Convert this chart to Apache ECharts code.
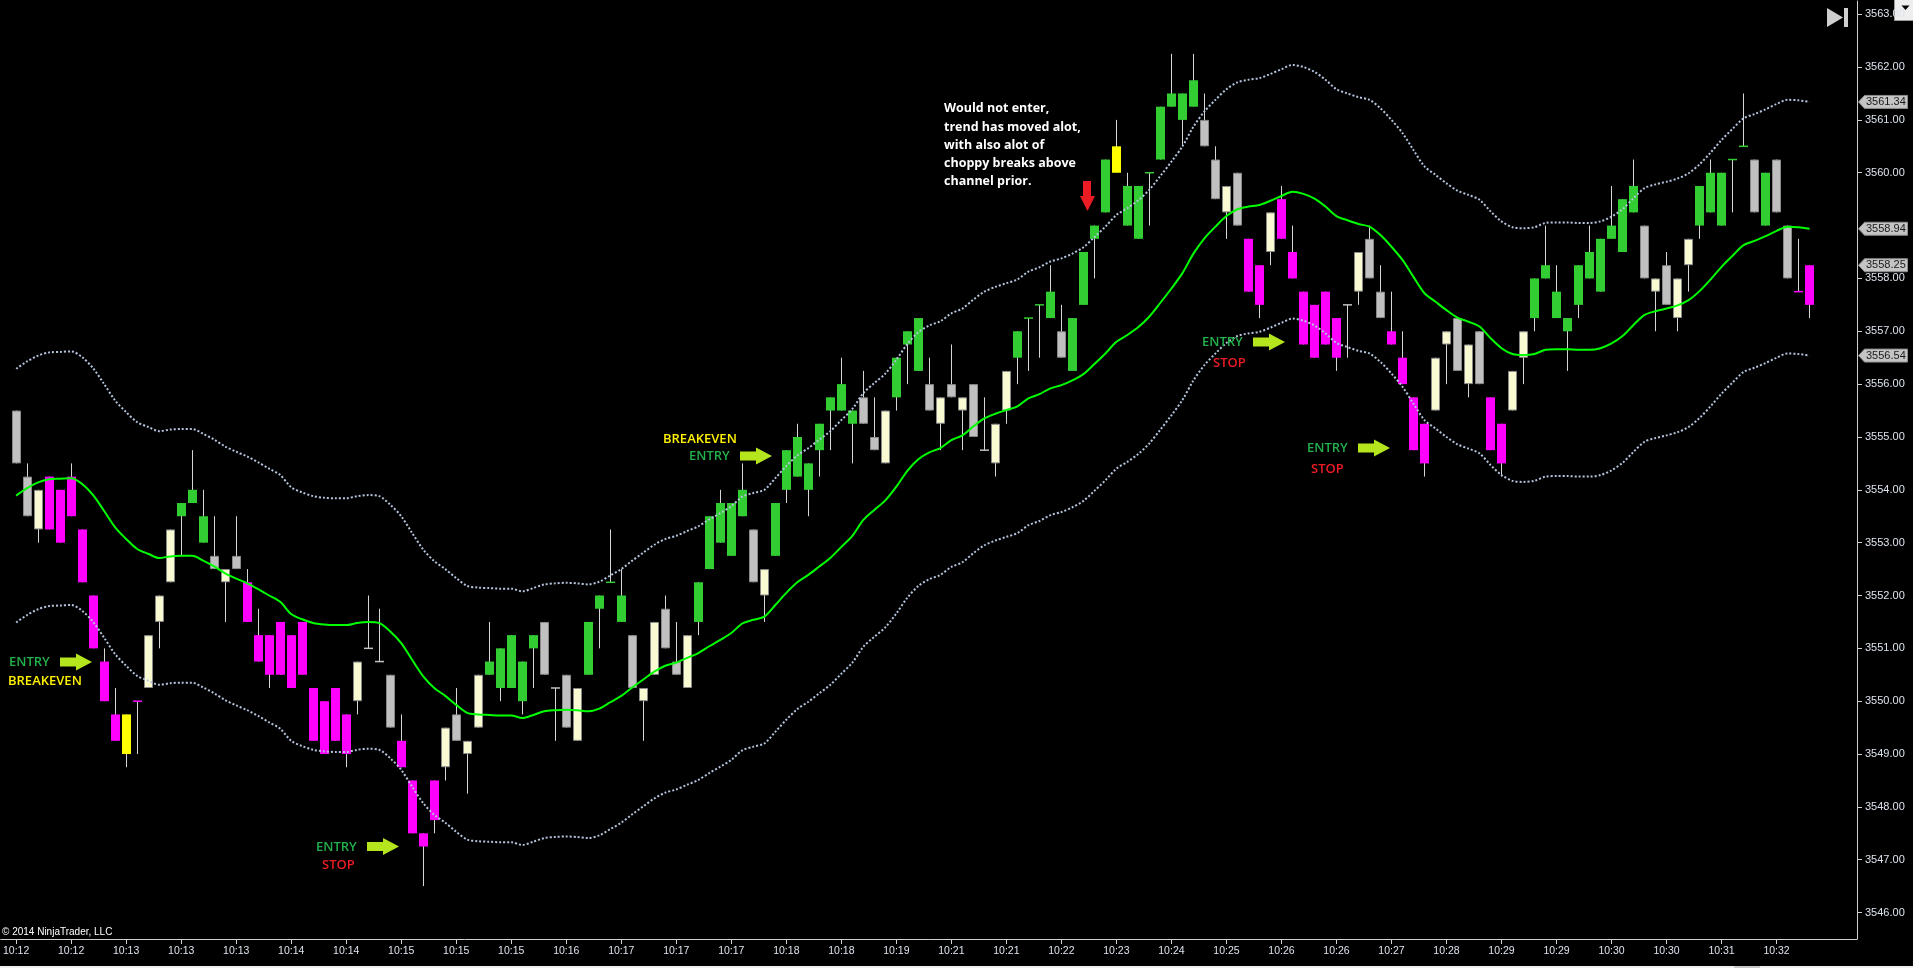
<!DOCTYPE html>
<html><head><meta charset="utf-8">
<script src="https://cdn.jsdelivr.net/npm/echarts@6/dist/echarts.min.js"></script>
<style>html,body{margin:0;padding:0;background:#000;overflow:hidden}#c{width:1913px;height:968px}</style>
</head><body><div id="c"></div>
<script>
// ---------------- DATA ----------------
const timeLabels = ['10:12','10:12','10:13','10:13','10:13','10:14','10:14','10:15','10:15','10:15','10:16','10:17','10:17','10:17','10:18','10:18','10:19','10:21','10:21','10:22','10:23','10:24','10:25','10:26','10:26','10:27','10:28','10:29','10:29','10:30','10:30','10:31','10:32'];
const priceTicks = [3546,3547,3548,3549,3550,3551,3552,3553,3554,3555,3556,3557,3558,3559,3560,3561,3562,3563];

// paint: g=green, m=magenta, c=cream, s=silver, y=yellow
const paints = [
's','s','c','m','m','m','m','m','m','m',
'y','m','c','c','c','g','g','g','s','c',
's','m','m','m','m','m','m','m','m','m',
'm','c','s','s','s','m','m','m','m','c',
's','c','c','g','g','g','g','g','s','s',
's','c','g','g','g','g','s','c','c','s',
's','c','g','g','g','g','g','s','c','g',
'g','g','g','g','g','g','g','s','s','c',
'g','g','g','s','c','s','c','s','s','c',
'c','g','g','g','g','s','g','g','g','g',
'y','g','g','g','g','g','g','g','s','s',
'c','s','m','m','c','m','m','m','m','m',
'm','s','c','s','s','m','m','m','m','c',
'c','s','c','s','m','m','c','c','g','g',
'g','g','g','g','g','g','g','g','s','c',
's','c','c','g','g','g','g','g','s','g',
's','s','m','m'];

const opens = [
3555.5,3554.25,3553.25,3554.25,3554,3554.25,3553.25,3552,3550.75,3549.75,
3549,3550,3550.25,3551.5,3552.25,3553.5,3553.75,3553,3552.75,3552.25,
3552.75,3552.25,3551.25,3551.25,3551.5,3551.25,3551.5,3550.25,3550,3550.25,
3549.75,3550,3551,3550.75,3550.5,3549.25,3548.5,3547.5,3548.5,3548.75,
3549.75,3549,3549.5,3550.5,3550.25,3550.25,3550,3551,3551.5,3550.25,
3550.5,3549.25,3550.5,3551.75,3552.25,3551.5,3551.25,3550,3550.5,3551.75,
3550.75,3550.25,3551.5,3552.5,3553,3552.75,3553.5,3553.25,3552,3552.75,
3554,3554.25,3554,3554.75,3555.5,3555.5,3555.25,3555.75,3555,3554.5,
3555.75,3556.75,3556.25,3556,3555.25,3556,3555.5,3556,3554.75,3554.5,
3555.5,3556.5,3557.25,3557.5,3557.25,3557,3556.25,3557.5,3558.75,3559.25,
3560,3559,3558.75,3560,3560.25,3561.25,3561,3561.25,3561,3560.25,
3559.25,3560,3558.75,3558.25,3558.5,3559.5,3558.5,3557.75,3557.5,3557.75,
3557.25,3557.5,3557.75,3558.75,3557.75,3557,3556.5,3555.75,3555.25,3555.5,
3556.75,3557.25,3556,3557,3555.75,3555.25,3555.5,3556.5,3557.25,3558,
3557.25,3557,3557.5,3558,3557.75,3558.75,3558.5,3559.25,3559,3557.75,
3558.25,3557.25,3558.25,3559,3559.25,3559,3560.25,3560.5,3560.25,3559,
3560.25,3559,3557.75,3557.5];

const highs = [
3555.5,3554.5,3554,3554.25,3554,3554.5,3553.25,3552,3551,3550.25,
3549.75,3550,3551.25,3552,3553.25,3553.75,3554.75,3554,3553.5,3552.5,
3553.5,3552.5,3551.75,3551.25,3551.5,3551.25,3551.5,3550.25,3550,3550.25,
3549.75,3550.75,3552,3551.75,3550.5,3549.75,3548.5,3547.5,3548.5,3549.5,
3550.25,3549.25,3550.5,3551.5,3551,3551.25,3550.75,3551.25,3551.5,3550.25,
3550.5,3550.25,3551.5,3552,3553.25,3552.5,3551.25,3550.25,3551.5,3552,
3551.5,3551.25,3552.25,3553.5,3554,3553.75,3554.5,3553.25,3552.5,3553.75,
3554.75,3555.25,3554.5,3555.25,3555.75,3556.5,3555.5,3556.25,3555.75,3555.5,
3556.5,3557,3557.25,3556.5,3555.75,3556.75,3555.75,3556,3555.75,3555.25,
3556.25,3557,3557.25,3557.5,3558.25,3557.5,3557.25,3558.5,3559,3560.25,
3561,3560,3559.75,3560,3561.25,3562.25,3561.5,3562.25,3561.5,3560.5,
3559.75,3560,3558.75,3558.25,3559.25,3559.75,3559,3557.75,3557.5,3557.75,
3557.25,3557.5,3558.5,3559,3558.25,3557.75,3557,3555.75,3555.25,3556.5,
3557,3557.25,3556.75,3557,3555.75,3555.25,3556.25,3557,3558,3559,
3558.25,3557.25,3558.25,3559,3558.75,3559.75,3559.5,3560.25,3559,3558,
3558.5,3558,3558.75,3559.75,3560.25,3560,3560.25,3561.5,3560.25,3560,
3560.25,3559,3558.75,3558.25];

const lows = [
3554.5,3553.5,3553,3553.25,3553,3553.5,3552.25,3551,3550,3549.25,
3548.75,3549,3550.25,3551,3552.25,3552.75,3553.75,3553,3552.5,3551.5,
3552.5,3551.5,3550.75,3550.25,3550.5,3550.25,3550.5,3549.25,3549,3549.25,
3548.75,3549.75,3551,3550.75,3549.5,3548.75,3547.5,3546.5,3547.5,3548.5,
3549.25,3548.25,3549.5,3550.5,3550,3550.25,3549.75,3550.25,3550.5,3549.25,
3549.5,3549.25,3550.5,3551,3552.25,3551.5,3550.25,3549.25,3550.5,3551,
3550.5,3550.25,3551.25,3552.5,3553,3552.75,3553.5,3552.25,3551.5,3552.75,
3553.75,3554.25,3553.5,3554.25,3554.75,3555.5,3554.5,3555.25,3554.75,3554.5,
3555.5,3556,3556.25,3555.5,3554.75,3555.75,3554.75,3555,3554.75,3554.25,
3555.25,3556,3556.25,3556.5,3557.25,3556.5,3556.25,3557.5,3558,3559.25,
3560,3559,3558.75,3559,3560.25,3561.25,3560.5,3561.25,3560.5,3559.5,
3558.75,3559,3557.75,3557.25,3558.25,3558.75,3558,3556.75,3556.5,3556.75,
3556.25,3556.5,3557.5,3558,3557.25,3556.75,3556,3554.75,3554.25,3555.5,
3556,3556.25,3555.75,3556,3554.75,3554.25,3555.5,3556,3557,3558,
3557.25,3556.25,3557.25,3558,3557.75,3558.75,3558.5,3559.25,3558,3557,
3557.5,3557,3557.75,3558.75,3559.25,3559,3559.25,3560.5,3559.25,3559,
3559.25,3558,3557.75,3557.25];

const closes = [
3554.5,3553.5,3554,3553.25,3553,3553.5,3552.25,3551,3550,3549.25,
3549.75,3550,3551.25,3552,3553.25,3553.75,3554,3553.5,3552.5,3552.5,
3552.5,3551.5,3550.75,3550.5,3550.5,3550.25,3550.5,3549.25,3549,3549.25,
3549,3550.75,3551,3550.75,3549.5,3548.75,3547.5,3547.25,3547.75,3549.5,
3549.25,3549.25,3550.5,3550.75,3551,3551.25,3550.75,3551.25,3550.5,3550.25,
3549.5,3550.25,3551.5,3552,3552.25,3552,3550.25,3550.25,3551.5,3551,
3550.5,3551.25,3552.25,3553.5,3553.75,3553.75,3554,3552.25,3552.5,3553.75,
3554.75,3555,3554.5,3555.25,3555.75,3556,3555.5,3555.25,3554.75,3555.5,
3556.5,3557,3557.25,3555.5,3555.75,3555.75,3555.75,3555,3554.75,3555.25,
3556.25,3557,3557.25,3557.5,3557.75,3556.5,3557.25,3558.5,3559,3560.25,
3560.5,3559.75,3559.75,3560,3561.25,3561.5,3561.5,3561.75,3560.5,3559.5,
3559.75,3559,3557.75,3557.5,3559.25,3558.75,3558,3556.75,3556.5,3556.75,
3556.5,3557.5,3558.5,3558,3557.25,3556.75,3556,3554.75,3554.5,3556.5,
3557,3556.25,3556.75,3556,3554.75,3554.5,3556.25,3557,3558,3558.25,
3557.75,3557.25,3558.25,3558.5,3558.75,3559,3559.5,3559.75,3558,3558,
3557.5,3558,3558.75,3559.75,3560,3560,3560.25,3560.5,3559.25,3560,
3559.25,3558,3557.75,3558.25];

const midLine = [
3553.89,3554.03,3554.14,3554.20,3554.21,3554.22,3554.11,3553.90,3553.60,3553.29,
3553.07,3552.88,3552.79,3552.71,3552.74,3552.75,3552.75,3552.66,3552.55,3552.42,
3552.32,3552.23,3552.12,3552.00,3551.88,3551.65,3551.55,3551.48,3551.45,3551.44,
3551.44,3551.48,3551.50,3551.48,3551.32,3551.10,3550.78,3550.47,3550.25,3550.10,
3549.93,3549.78,3549.75,3549.74,3549.73,3549.73,3549.68,3549.74,3549.81,3549.83,
3549.84,3549.83,3549.81,3549.86,3549.98,3550.10,3550.26,3550.41,3550.56,3550.67,
3550.73,3550.82,3550.91,3551.04,3551.16,3551.29,3551.47,3551.54,3551.60,3551.82,
3552.05,3552.25,3552.39,3552.55,3552.71,3552.92,3553.13,3553.43,3553.62,3553.80,
3554.06,3554.36,3554.58,3554.71,3554.79,3554.94,3555.03,3555.20,3555.35,3555.44,
3555.51,3555.58,3555.73,3555.81,3555.92,3555.98,3556.07,3556.19,3556.38,3556.58,
3556.80,3556.93,3557.08,3557.28,3557.54,3557.81,3558.10,3558.47,3558.76,3558.98,
3559.18,3559.31,3559.36,3559.39,3559.47,3559.56,3559.64,3559.60,3559.51,3559.36,
3559.18,3559.10,3559.03,3558.98,3558.82,3558.60,3558.35,3558.03,3557.72,3557.56,
3557.40,3557.26,3557.18,3557.09,3556.87,3556.68,3556.57,3556.55,3556.57,3556.65,
3556.66,3556.66,3556.65,3556.65,3556.68,3556.77,3556.91,3557.12,3557.31,3557.38,
3557.43,3557.49,3557.59,3557.76,3557.98,3558.22,3558.43,3558.63,3558.71,3558.80,
3558.90,3558.98,3558.97,3558.94];

const upperBand = [
3556.29,3556.43,3556.54,3556.60,3556.61,3556.62,3556.51,3556.30,3556.00,3555.69,
3555.47,3555.28,3555.19,3555.11,3555.14,3555.15,3555.15,3555.06,3554.95,3554.82,
3554.72,3554.63,3554.52,3554.40,3554.28,3554.05,3553.95,3553.88,3553.85,3553.84,
3553.84,3553.88,3553.90,3553.88,3553.72,3553.50,3553.18,3552.87,3552.65,3552.50,
3552.33,3552.18,3552.15,3552.14,3552.13,3552.13,3552.08,3552.14,3552.21,3552.23,
3552.24,3552.23,3552.21,3552.26,3552.38,3552.50,3552.66,3552.81,3552.96,3553.07,
3553.13,3553.22,3553.31,3553.44,3553.56,3553.69,3553.87,3553.94,3554.00,3554.22,
3554.45,3554.65,3554.79,3554.95,3555.11,3555.32,3555.53,3555.83,3556.02,3556.20,
3556.46,3556.76,3556.98,3557.11,3557.19,3557.34,3557.43,3557.60,3557.75,3557.84,
3557.91,3557.98,3558.13,3558.21,3558.32,3558.38,3558.47,3558.59,3558.78,3558.98,
3559.20,3559.33,3559.48,3559.68,3559.94,3560.21,3560.50,3560.87,3561.16,3561.38,
3561.58,3561.71,3561.76,3561.79,3561.87,3561.96,3562.04,3562.00,3561.91,3561.76,
3561.58,3561.50,3561.43,3561.38,3561.22,3561.00,3560.75,3560.43,3560.12,3559.96,
3559.80,3559.66,3559.58,3559.49,3559.27,3559.08,3558.97,3558.95,3558.97,3559.05,
3559.06,3559.06,3559.05,3559.05,3559.08,3559.17,3559.31,3559.52,3559.71,3559.78,
3559.83,3559.89,3559.99,3560.16,3560.38,3560.62,3560.83,3561.03,3561.11,3561.20,
3561.30,3561.38,3561.37,3561.34];

const lowerBand = [
3551.49,3551.63,3551.74,3551.80,3551.81,3551.82,3551.71,3551.50,3551.20,3550.89,
3550.67,3550.48,3550.39,3550.31,3550.34,3550.35,3550.35,3550.26,3550.15,3550.02,
3549.92,3549.83,3549.72,3549.60,3549.48,3549.25,3549.15,3549.08,3549.05,3549.04,
3549.04,3549.08,3549.10,3549.08,3548.92,3548.70,3548.38,3548.07,3547.85,3547.70,
3547.53,3547.38,3547.35,3547.34,3547.33,3547.33,3547.28,3547.34,3547.41,3547.43,
3547.44,3547.43,3547.41,3547.46,3547.58,3547.70,3547.86,3548.01,3548.16,3548.27,
3548.33,3548.42,3548.51,3548.64,3548.76,3548.89,3549.07,3549.14,3549.20,3549.42,
3549.65,3549.85,3549.99,3550.15,3550.31,3550.52,3550.73,3551.03,3551.22,3551.40,
3551.66,3551.96,3552.18,3552.31,3552.39,3552.54,3552.63,3552.80,3552.95,3553.04,
3553.11,3553.18,3553.33,3553.41,3553.52,3553.58,3553.67,3553.79,3553.98,3554.18,
3554.40,3554.53,3554.68,3554.88,3555.14,3555.41,3555.70,3556.07,3556.36,3556.58,
3556.78,3556.91,3556.96,3556.99,3557.07,3557.16,3557.24,3557.20,3557.11,3556.96,
3556.78,3556.70,3556.63,3556.58,3556.42,3556.20,3555.95,3555.63,3555.32,3555.16,
3555.00,3554.86,3554.78,3554.69,3554.47,3554.28,3554.17,3554.15,3554.17,3554.25,
3554.26,3554.26,3554.25,3554.25,3554.28,3554.37,3554.51,3554.72,3554.91,3554.98,
3555.03,3555.09,3555.19,3555.36,3555.58,3555.82,3556.03,3556.23,3556.31,3556.40,
3556.50,3556.58,3556.57,3556.54];

// ---------------- CHART ----------------
const paintColors = {g:'#32cd32', m:'#ff00ff', c:'#fafad2', s:'#c0c0c0', y:'#ffff00'};
const bordered = {c:true, s:true};
const tickBars = timeLabels.map((_, k) => k * 5);
const barData = opens.map((o, i) => [i, o, closes[i], lows[i], highs[i]]);
const toXY = arr => arr.map((v, i) => [i, v]);
const n = closes.length;
const markerVals = [upperBand[n-1], midLine[n-1], closes[n-1], lowerBand[n-1]];
// price labels hidden behind a value marker are not drawn (as in the reference)
const visiblePriceLabels = priceTicks.filter(t => markerVals.every(m => Math.abs(m - t) > 0.2));

function renderCandle(params, api) {
  const i = api.value(0);
  const k = paints[i];
  const pO = api.coord([i, api.value(1)]);
  const pC = api.coord([i, api.value(2)]);
  const pL = api.coord([i, api.value(3)]);
  const pH = api.coord([i, api.value(4)]);
  const cx = Math.floor(pO[0]) + 0.5;
  const half = 4.5;
  const kids = [];
  if (pL[1] - pH[1] > 0.5) {
    kids.push({type:'line', shape:{x1:cx, y1:pH[1], x2:cx, y2:pL[1]}, style:{stroke:'#d6d6d6', lineWidth:1}});
  }
  const top = Math.min(pO[1], pC[1]), bot = Math.max(pO[1], pC[1]);
  if (bot - top < 1) {
    kids.push({type:'line', shape:{x1:cx-half, y1:top, x2:cx+half, y2:top}, style:{stroke:paintColors[k], lineWidth:1.5}});
  } else if (bordered[k]) {
    kids.push({type:'rect', shape:{x:cx-half+0.5, y:top+0.5, width:2*half-1, height:bot-top-1}, style:{fill:paintColors[k], stroke:'#8a8a8a', lineWidth:1}});
  } else {
    kids.push({type:'rect', shape:{x:cx-half, y:top, width:2*half, height:bot-top}, style:{fill:paintColors[k]}});
  }
  return {type:'group', children:kids};
}

const chart = echarts.init(document.getElementById('c'), null, {renderer:'canvas'});
const axisFont = '"Liberation Sans", Arial, sans-serif';
chart.setOption({
  backgroundColor:'#000000',
  animation:false,
  grid:{left:0, right:56, top:1, bottom:29, containLabel:false},
  xAxis:{
    type:'value', min:-1.39, max:167.31,
    axisLine:{show:true, onZero:false, lineStyle:{color:'#d0d0d0', width:1}},
    axisTick:{show:true, length:5, customValues:tickBars, lineStyle:{color:'#d0d0d0'}},
    axisLabel:{customValues:tickBars, formatter:v => timeLabels[Math.round(v/5)], color:'#dde3ee', fontSize:10.5, fontFamily:axisFont, margin:7},
    splitLine:{show:false}
  },
  yAxis:{
    type:'value', position:'right', min:3545.5, max:3563.25,
    axisLine:{show:true, onZero:false, lineStyle:{color:'#d0d0d0', width:1}},
    axisTick:{show:true, length:5, customValues:visiblePriceLabels, lineStyle:{color:'#d0d0d0'}},
    axisLabel:{customValues:visiblePriceLabels, formatter:v => v.toFixed(2), color:'#dde3ee', fontSize:11, fontFamily:axisFont, margin:8},
    splitLine:{show:false}
  },
  series:[
    {type:'custom', name:'bars', renderItem:renderCandle, data:barData, encode:{x:0, y:[1,2,3,4]}, z:2, clip:true},
    {type:'line', name:'upper', data:toXY(upperBand), showSymbol:false, smooth:0.3, z:3,
      lineStyle:{color:'#b4c4dc', width:2, type:[2,2]}},
    {type:'line', name:'lower', data:toXY(lowerBand), showSymbol:false, smooth:0.3, z:3,
      lineStyle:{color:'#b4c4dc', width:2, type:[2,2]}},
    {type:'line', name:'mid', data:toXY(midLine), showSymbol:false, smooth:0.3, z:4,
      lineStyle:{color:'#00ff00', width:2}}
  ]
});

// ---------------- ANNOTATIONS ----------------
const annFont = '600 13px "Open Sans", sans-serif';
function txt(x, y, text, fill, font) {
  return {type:'text', x:x, y:y, z:100, zlevel:1, style:{text:text, fill:fill, font:font || annFont, verticalAlign:'middle', textVerticalAlign:'middle'}};
}
function rightArrow(x0, cy) {
  return {type:'group', z:100, zlevel:1, children:[
    {type:'rect', shape:{x:x0, y:cy-4.5, width:16, height:9}, style:{fill:'#b5e61d'}},
    {type:'polygon', shape:{points:[[x0+16,cy-8.5],[x0+32,cy],[x0+16,cy+8.5]]}, style:{fill:'#b5e61d'}}
  ]};
}
const GREEN = '#22b14c', RED = '#ed1c24', YEL = '#fff200';
const noteFont = 'bold 12.5px "Open Sans", sans-serif';
const graphics = [
  txt(9, 662, 'ENTRY', GREEN), txt(8, 681, 'BREAKEVEN', YEL), rightArrow(60, 662),
  txt(316, 847, 'ENTRY', GREEN), txt(322, 865, 'STOP', RED), rightArrow(367, 846.5),
  txt(663, 439, 'BREAKEVEN', YEL), txt(689, 456, 'ENTRY', GREEN), rightArrow(740, 456),
  txt(944, 108, 'Would not enter,', '#ffffff', noteFont),
  txt(944, 127, 'trend has moved alot,', '#ffffff', noteFont),
  txt(944, 145, 'with also alot of', '#ffffff', noteFont),
  txt(944, 163, 'choppy breaks above', '#ffffff', noteFont),
  txt(944, 181, 'channel prior.', '#ffffff', noteFont),
  {type:'group', z:100, zlevel:1, children:[
    {type:'rect', shape:{x:1083, y:181, width:8, height:16}, style:{fill:RED}},
    {type:'polygon', shape:{points:[[1080,196],[1095,196],[1087.5,211]]}, style:{fill:RED}}
  ]},
  txt(1202, 342, 'ENTRY', GREEN), txt(1213, 363, 'STOP', RED), rightArrow(1253, 342),
  txt(1307, 448, 'ENTRY', GREEN), txt(1311, 469, 'STOP', RED), rightArrow(1358, 448),
  txt(2, 932, '\u00a9 2014 NinjaTrader, LLC', '#ffffff', '10px "Liberation Sans", Arial, sans-serif'),
  {type:'group', z:100, zlevel:1, children:[
    {type:'polygon', shape:{points:[[1827,8],[1843,17.5],[1827,27]]}, style:{fill:'#cfcfcf'}},
    {type:'rect', shape:{x:1844, y:8, width:4, height:19}, style:{fill:'#cfcfcf'}}
  ]},
  {type:'group', z:120, zlevel:1, children:[
    {type:'rect', shape:{x:1894.5, y:-1, width:20, height:21.5}, style:{fill:'#eeeeee', stroke:'#9a9a9a', lineWidth:1}},
    {type:'polygon', shape:{points:[[1901.5,5.5],[1909.5,5.5],[1905.5,10]]}, style:{fill:'#000000'}}
  ]},
  {type:'rect', z:100, zlevel:1, shape:{x:0, y:966, width:1913, height:2}, style:{fill:'#f0f0f0'}},
  {type:'rect', z:101, zlevel:1, shape:{x:1734, y:966, width:26, height:2}, style:{fill:'#c8c8c8'}}
];
markerVals.forEach(v => {
  const y = chart.convertToPixel({yAxisIndex:0}, v);
  graphics.push({type:'group', z:110, zlevel:1, children:[
    {type:'polygon', shape:{points:[[1858.5,y],[1864.5,y-6.5],[1907.5,y-6.5],[1907.5,y+6.5],[1864.5,y+6.5]]}, style:{fill:'#c4c4c4', stroke:'#8c8c8c', lineWidth:1}},
    {type:'text', x:1866, y:y, style:{text:v.toFixed(2), fill:'#1a1a1a', font:'11px "Liberation Sans", Arial, sans-serif', verticalAlign:'middle', textVerticalAlign:'middle'}}
  ]});
});
chart.setOption({graphic:graphics});
</script>
</body></html>
